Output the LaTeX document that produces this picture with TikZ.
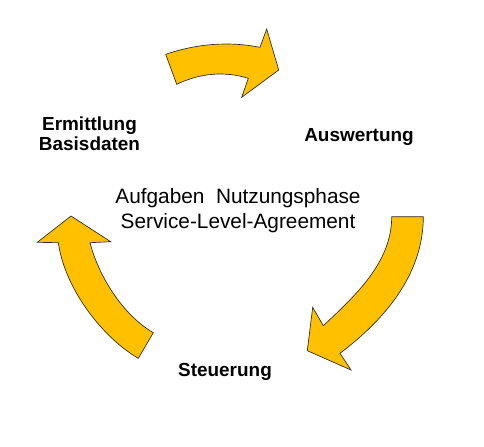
\documentclass[tikz,border=0pt]{standalone}
\usepackage{fontspec}
\setmainfont{Liberation Sans}
\usepackage{xcolor}
\definecolor{pfeilgold}{HTML}{FFC000}
\definecolor{rand}{HTML}{2B2B2B}
\tikzset{
  bogen/.style={fill=pfeilgold,draw=rand,line width=0.5pt,line join=miter},
  phase/.style={inner sep=0pt,font=\fontsize{14.2}{15}\selectfont\bfseries,align=center},
  mitte/.style={inner sep=0pt,font=\fontsize{15.6}{18.8}\selectfont,align=center}
}
\begin{document}
\begin{tikzpicture}[x=0.75pt,y=-0.75pt]
        \useasboundingbox (0,0) rectangle (484,446);

        % top arrow: Ermittlung -> Auswertung
        \draw[bogen] (165.7,54.3) .. controls (197.2,43.6) and (228.7,41.2) .. (260,47.3)
              -- (266.7,29) -- (278.7,70) -- (241.7,97.3) -- (248.3,78.3)
              .. controls (224.4,71.0) and (200.6,73.0) .. (176.7,84.3) -- cycle;

        % right arrow: Auswertung -> Steuerung
        \draw[bogen] (391.7,216.7) -- (423.3,216.7)
              .. controls (423.3,275) and (384,320) .. (340,353.3)
              -- (351,370) -- (307.3,350.7) -- (312.7,307.3) -- (323.3,325.7)
              .. controls (356.3,294.7) and (391.7,262) .. (391.7,216.7) -- cycle;

        % left arrow: Steuerung -> Ermittlung
        \draw[bogen] (138.3,358.3) .. controls (103.9,338.3) and (65.3,290.7) .. (58.3,242.7)
              -- (37.3,242.3) -- (71,216) -- (110.7,241.7) -- (90,242.7)
              .. controls (98.8,276.7) and (123.2,315.2) .. (153.3,332.7) -- cycle;

        % phases
        \node[phase] (ermittlung) at (89.5,134) {Ermittlung\\Basisdaten};
        \node[phase,anchor=base] (auswertung) at (359,141) {Auswertung};
        \node[phase,anchor=base] (steuerung) at (225,376) {Steuerung};

        % centre
        \node[mitte] (aufgaben) at (238,211) {Aufgaben\ \ Nutzungsphase\\Service-Level-Agreement};
      \end{tikzpicture}
\end{document}
